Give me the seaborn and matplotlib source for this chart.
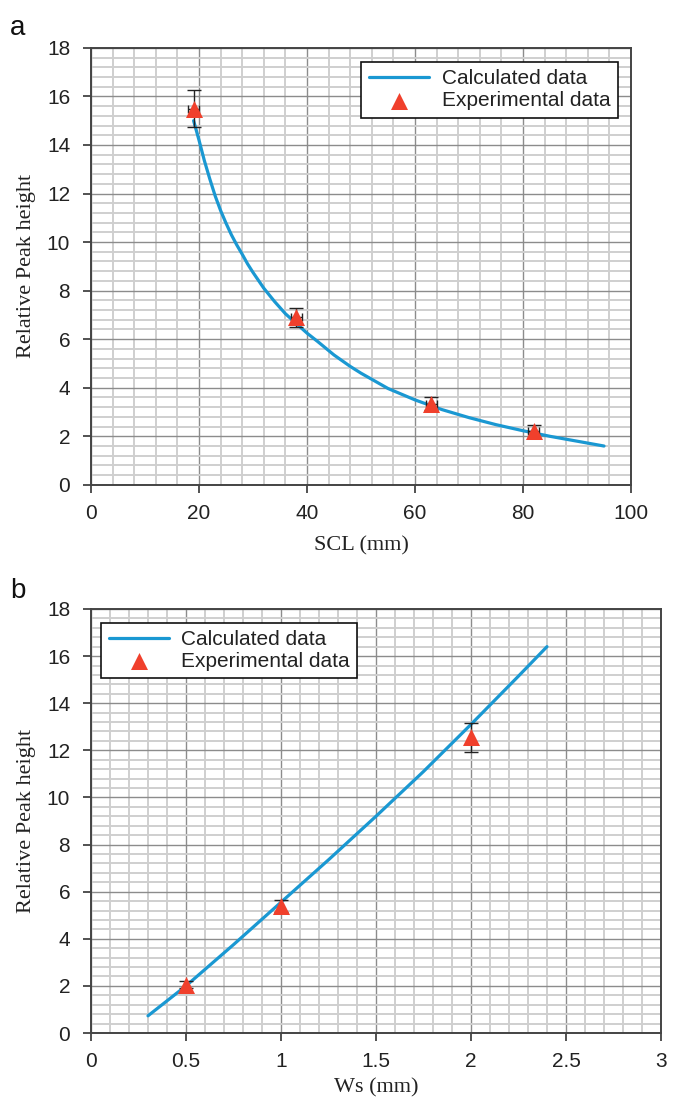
import matplotlib
matplotlib.use("Agg")
import matplotlib.pyplot as plt
import seaborn as sns
import pandas as pd
from matplotlib.ticker import MultipleLocator

# panel a: peak height vs SCL
scl_calc = [19, 20, 21, 22, 23, 24, 25, 26, 27, 28, 29, 30, 32, 34, 36, 38, 40, 42, 45,
            48, 50, 55, 60, 65, 70, 75, 80, 85, 90, 95]
peak_calc_a = [15.0, 14.2, 13.35, 12.6, 11.9, 11.3, 10.78, 10.3, 9.88, 9.5, 9.1, 8.75,
               8.1, 7.55, 7.05, 6.65, 6.25, 5.9, 5.35, 4.88, 4.6, 3.97, 3.5, 3.1, 2.77,
               2.48, 2.23, 2.0, 1.8, 1.6]
scl_exp = [19, 38, 63, 82]
peak_exp_a = [15.5, 6.9, 3.35, 2.2]
yerr_a = [0.75, 0.4, 0.25, 0.25]
xerr_a = [1.0, 1.0, 1.0, 1.0]

# panel b: peak height vs Ws
ws_calc = [0.3, 0.5, 0.75, 1.0, 1.25, 1.5, 1.75, 2.0, 2.25, 2.4]
peak_calc_b = [0.73, 2.0, 3.75, 5.55, 7.35, 9.2, 11.1, 13.1, 15.15, 16.4]
ws_exp = [0.5, 1.0, 2.0]
peak_exp_b = [2.05, 5.38, 12.55]
yerr_b = [0.15, 0.25, 0.63]

LINE = "#1a98d2"
RED = "#f0402c"

sns.set_style("white")
plt.rcParams["font.family"] = ["Liberation Sans", "DejaVu Sans"]

fig = plt.figure(figsize=(6.81, 11.02), dpi=100)
ax_a = fig.add_axes([0.1336, 0.560, 0.793, 0.3966])
ax_b = fig.add_axes([0.1336, 0.0626, 0.837, 0.3848])


def style_axes(ax, xmax, xmajor, xminor):
    ax.set_xlim(0, xmax)
    ax.set_ylim(0, 18)
    ax.xaxis.set_major_locator(MultipleLocator(xmajor))
    ax.xaxis.set_minor_locator(MultipleLocator(xminor))
    ax.yaxis.set_major_locator(MultipleLocator(2))
    ax.yaxis.set_minor_locator(MultipleLocator(0.4))
    ax.grid(which="minor", color="#cfcfcf", lw=1.4, zorder=0)
    ax.grid(which="major", color="#8c8c8c", lw=1.0, zorder=0)
    ax.set_axisbelow(True)
    for s in ax.spines.values():
        s.set_color("#444444")
        s.set_linewidth(1.4)
    ax.tick_params(which="major", direction="out", length=6, width=1.2,
                   color="#333333", labelsize=15, labelcolor="#222222",
                   left=True, bottom=True)
    ax.tick_params(axis="x", pad=8)
    ax.tick_params(axis="y", pad=9)
    ax.tick_params(which="minor", length=0)
    ax.set_ylabel("Relative Peak height", family="Liberation Serif", fontsize=16,
                  color="#222222", labelpad=8)


# ---- panel a
df_a = pd.DataFrame({"x": scl_calc, "y": peak_calc_a})
sns.lineplot(data=df_a, x="x", y="y", ax=ax_a, color=LINE, lw=2.3,
             label="Calculated data", zorder=3)
ax_a.errorbar(scl_exp, peak_exp_a, yerr=yerr_a, fmt="none",
              ecolor="#222222", elinewidth=1.0, capsize=5, capthick=1.0, zorder=4)
ax_a.errorbar(scl_exp, peak_exp_a, xerr=xerr_a, fmt="none",
              ecolor="#222222", elinewidth=1.0, capsize=3, capthick=1.0, zorder=4)
sns.scatterplot(x=scl_exp, y=peak_exp_a, ax=ax_a, marker="^", s=150, color=RED,
                edgecolor=RED, linewidth=0, label="Experimental data", zorder=5)
style_axes(ax_a, 100, 20, 4)
ax_a.set_xlabel("SCL (mm)", family="Liberation Serif", fontsize=16, color="#222222",
                labelpad=9)

# ---- panel b
df_b = pd.DataFrame({"x": ws_calc, "y": peak_calc_b})
sns.lineplot(data=df_b, x="x", y="y", ax=ax_b, color=LINE, lw=2.3,
             label="Calculated data", zorder=3)
ax_b.errorbar(ws_exp, peak_exp_b, yerr=yerr_b, fmt="none", ecolor="#222222",
              elinewidth=1.0, capsize=5, capthick=1.0, zorder=4)
sns.scatterplot(x=ws_exp, y=peak_exp_b, ax=ax_b, marker="^", s=150, color=RED,
                edgecolor=RED, linewidth=0, label="Experimental data", zorder=5)
style_axes(ax_b, 3, 0.5, 0.1)
ax_b.set_xticks([0, 0.5, 1, 1.5, 2, 2.5, 3])
ax_b.set_xticklabels(["0", "0.5", "1", "1.5", "2", "2.5", "3"])
ax_b.set_xlabel("Ws (mm)", family="Liberation Serif", fontsize=16, color="#222222",
                labelpad=5)

for ax, loc, anchor in [(ax_a, "upper right", (0.975, 0.968)),
                        (ax_b, "upper left", (0.018, 0.968))]:
    leg = ax.legend(loc=loc, bbox_to_anchor=anchor, fontsize=15, frameon=True,
                    fancybox=False, framealpha=1, edgecolor="#111111",
                    handlelength=2.9, handletextpad=0.6, borderpad=0.35,
                    labelspacing=0.15, borderaxespad=0)
    leg.get_frame().set_linewidth(1.2)
    for t in leg.get_texts():
        t.set_color("#222222")

fig.text(0.015, 0.968, "a", fontsize=20, color="#111111")
fig.text(0.015, 0.457, "b", fontsize=20, color="#111111")

fig.savefig("out.png", dpi=100)
